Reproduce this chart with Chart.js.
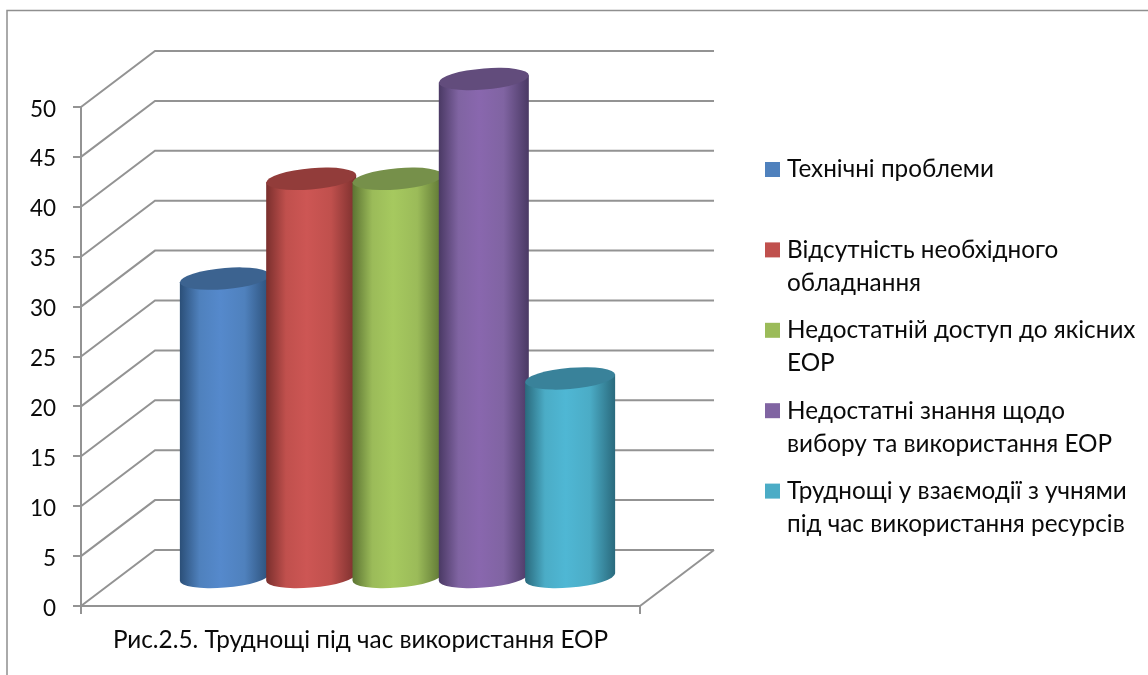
<!DOCTYPE html>
<html>
<head>
<meta charset="utf-8">
<style>
  html, body { margin: 0; padding: 0; background: #fff; }
  canvas { display: block; }
</style>
<script src="https://cdn.jsdelivr.net/npm/chart.js@4"></script>
</head>
<body>
<canvas id="difficultyChart" width="1148" height="675"></canvas>
<script>
var seriesNames = [
	["Технічні проблеми"],
	["Відсутність необхідного", "обладнання"],
	["Недостатній доступ до якісних", "ЕОР"],
	["Недостатні знання щодо", "вибору та використання ЕОР"],
	["Труднощі у взаємодії з учнями", "під час використання ресурсів"]
];
var seriesValues = [30, 40, 40, 50, 20];
var categories = [""];
var axisTitle = "Рис.2.5. Труднощі під час використання ЕОР";

var swatchColors = ["#4f81bd", "#c0504d", "#9bbb59", "#8064a2", "#4bacc6"];
var lightColors = ["#5589cc", "#cd5654", "#a6c95f", "#8967ae", "#4fb7d4"];
var edgeColors = ["#2b4f78", "#7a2f2d", "#5c7433", "#4a3964", "#2a6a7d"];
var capColors = ["#3c6390", "#923c3a", "#76904a", "#624c7c", "#39829a"];

var FONT = "Lato, 'Noto Sans', sans-serif";
var LINE = "#939393";
// depth of the floor, front edge to back wall
var depthX = 74;
var depthY = -56;

// walls, floor and the outer frame, under the cylinders
var wallsPlugin = {
	id: "walls",
	beforeDraw: function (chart) {
		var c = chart.ctx;
		c.save();
		c.strokeStyle = "#8f8f8f";
		c.lineWidth = 1.5;
		c.beginPath();
		c.moveTo(7, chart.height);
		c.lineTo(7, 10.5);
		c.lineTo(chart.width, 10.5);
		c.stroke();
		c.restore();
	},
	beforeDatasetsDraw: function (chart) {
		var c = chart.ctx;
		var y = chart.scales.y;
		var a = chart.chartArea;
		c.save();
		c.strokeStyle = LINE;
		c.lineWidth = 2;
		y.ticks.forEach(function (t) {
			var py = y.getPixelForValue(t.value);
			c.beginPath();
			c.moveTo(a.left, py);
			c.lineTo(a.left + depthX, py + depthY);
			c.lineTo(a.right + depthX, py + depthY);
			c.stroke();
		});
		c.beginPath();
		c.moveTo(a.right, a.bottom);
		c.lineTo(a.right + depthX, a.bottom + depthY);
		c.stroke();
		c.restore();
	}
};

// each bar element is painted as a cylinder standing halfway into the floor
var cylinderPlugin = {
	id: "cylinders",
	afterDatasetsDraw: function (chart) {
		var c = chart.ctx;
		seriesValues.forEach(function (v, i) {
			var el = chart.getDatasetMeta(i).data[0];
			var cx = el.x + depthX / 2;
			var top = el.y + depthY / 2;
			var base = el.base + depthY / 2;
			var rx = el.width / 2;
			var ry = 10.6;
			var tilt = 3.7;

			var g = c.createLinearGradient(cx - rx, 0, cx + rx, 0);
			g.addColorStop(0, edgeColors[i]);
			g.addColorStop(0.22, swatchColors[i]);
			g.addColorStop(0.45, lightColors[i]);
			g.addColorStop(0.72, swatchColors[i]);
			g.addColorStop(1, edgeColors[i]);

			c.save();
			c.beginPath();
			c.moveTo(cx - rx, top + tilt);
			c.lineTo(cx - rx, base + tilt);
			c.save();
			c.transform(1, -tilt / rx, 0, 1, cx, base);
			c.ellipse(0, 0, rx, ry, 0, Math.PI, 0, true);
			c.restore();
			c.lineTo(cx + rx, top - tilt);
			c.closePath();
			c.fillStyle = g;
			c.fill();

			c.beginPath();
			c.save();
			c.transform(1, -tilt / rx, 0, 1, cx, top);
			c.ellipse(0, 0, rx, ry, 0, 0, Math.PI * 2);
			c.restore();
			c.fillStyle = capColors[i];
			c.fill();
			c.restore();
		});
	}
};

// legend entries wrap over two lines and keep an even pitch
var legendPlugin = {
	id: "sideLegend",
	afterDraw: function (chart) {
		var c = chart.ctx;
		c.save();
		c.font = "24.3px " + FONT;
		c.textBaseline = "middle";
		seriesNames.forEach(function (lines, i) {
			var y = 169.5 + i * 80.4;
			c.fillStyle = swatchColors[i];
			c.fillRect(765, y - 7.5, 15, 15);
			c.fillStyle = "#0a0a0a";
			lines.forEach(function (line, j) {
				c.fillText(line, 787, y + j * 33);
			});
		});
		c.restore();
	}
};

var datasets = seriesValues.map(function (v, i) {
	return {
		label: seriesNames[i].join(" "),
		data: [v],
		backgroundColor: "rgba(0,0,0,0)",
		borderWidth: 0
	};
});

var ctx = document.getElementById("difficultyChart").getContext("2d");
var difficultyChart = new Chart(ctx, {
	type: "bar",
	data: { labels: categories, datasets: datasets },
	plugins: [wallsPlugin, cylinderPlugin, legendPlugin],
	options: {
		responsive: false,
		animation: false,
		barPercentage: 1.043,
		categoryPercentage: 0.772,
		layout: { padding: { left: 0, top: 107, right: 508, bottom: 0 } },
		plugins: { legend: { display: false }, title: { display: false }, tooltip: { enabled: false } },
		scales: {
			x: {
				grid: { drawOnChartArea: false, tickLength: 8, color: LINE, lineWidth: 2 },
				border: { color: LINE, width: 2 },
				ticks: { display: false },
				title: {
					display: true,
					text: axisTitle,
					color: "#0a0a0a",
					font: { family: FONT, size: 24.3, lineHeight: 1.2 },
					padding: { top: 14, bottom: 20 }
				},
				afterFit: function (scale) { scale.height = 69; }
			},
			y: {
				min: 0,
				max: 50,
				grid: { drawOnChartArea: false, tickLength: 8, color: LINE, lineWidth: 2 },
				border: { color: LINE, width: 2 },
				ticks: {
					stepSize: 5,
					padding: 17,
					color: "#0a0a0a",
					// empty first line nudges the digits just below the tick
					callback: function (value) { return ["", String(value)]; },
					font: { family: FONT, size: 22.5, lineHeight: 0.2 }
				},
				afterFit: function (scale) { scale.width = 81; }
			}
		}
	}
});
</script>
</body>
</html>
